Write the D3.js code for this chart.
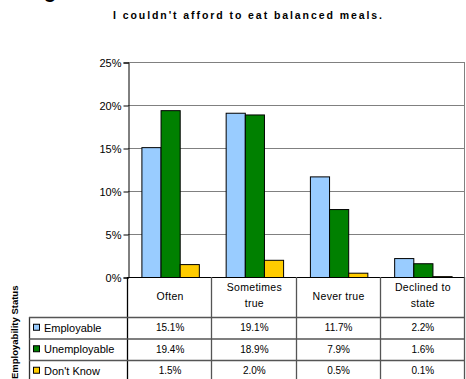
<!DOCTYPE html>
<html>
<head>
<meta charset="utf-8">
<script src="https://cdn.jsdelivr.net/npm/d3@7"></script>
<style>
  html, body { margin: 0; padding: 0; background: #fff; }
  svg { display: block; font-family: "Liberation Sans", Arial, sans-serif; }
</style>
</head>
<body>
<svg id="chart" width="466" height="379"></svg>
<script>
// Survey answers and the share of each employability group giving them
const categories = ["Often", "Sometimes true", "Never true", "Declined to state"];
const categoryLines = [["Often"], ["Sometimes", "true"], ["Never true"], ["Declined to", "state"]];
const seriesNames = ["Employable", "Unemployable", "Don't Know"];
const employable = [15.1, 19.1, 11.7, 2.2];
const unemployable = [19.4, 18.9, 7.9, 1.6];
const dontKnow = [1.5, 2.0, 0.5, 0.1];
const yTicks = [0, 5, 10, 15, 20, 25];
const colors = ["#99ccff", "#008000", "#ffcc00"];

const seriesValues = [employable, unemployable, dontKnow];

const svg = d3.select("#chart");

const plot = { left: 128, right: 465, top: 62, bottom: 277 };

const x = d3.scaleBand().domain(categories).range([plot.left, plot.right]);
const xInner = d3.scaleBand().domain(seriesNames)
  .range([0, x.bandwidth()]).paddingOuter(0.7).paddingInner(0);
const y = d3.scaleLinear().domain([0, 25]).range([plot.bottom, plot.top]);

// Fragment of the heading above, cut by the top edge
svg.append("text").attr("x", 44).attr("y", -2.5)
  .attr("font-size", 20).attr("font-weight", "bold").text("g");

// Title
svg.append("text")
  .attr("x", 113).attr("y", 19)
  .attr("font-size", 10.5).attr("font-weight", "bold")
  .attr("textLength", 269).attr("lengthAdjust", "spacing")
  .text("I couldn't afford to eat balanced meals.");

// Gridlines
svg.append("g").selectAll("line")
  .data(yTicks.filter(d => d > 0))
  .join("line")
  .attr("x1", plot.left).attr("x2", plot.right)
  .attr("y1", d => y(d) + 0.5).attr("y2", d => y(d) + 0.5)
  .attr("stroke", "#808080").attr("stroke-width", 1);

// Right edge of plot area
svg.append("line")
  .attr("x1", plot.right - 0.5).attr("x2", plot.right - 0.5)
  .attr("y1", plot.top).attr("y2", plot.bottom)
  .attr("stroke", "#808080");

// Bars
const groups = svg.append("g").selectAll("g")
  .data(seriesNames)
  .join("g")
  .attr("fill", (d, i) => colors[i]);

groups.selectAll("rect")
  .data((s, si) => categories.map((c, ci) => ({ c, s, v: seriesValues[si][ci] })))
  .join("rect")
  .attr("x", d => x(d.c) + xInner(d.s) + 0.5)
  .attr("width", xInner.bandwidth())
  .attr("y", d => y(d.v) + 0.5)
  .attr("height", d => Math.max(0, y(0) - y(d.v)))
  .attr("stroke", "#000").attr("stroke-width", 1);

// Y axis
const yAxis = d3.axisLeft(y).tickValues(yTicks)
  .tickFormat(d => d + "%").tickSize(5).tickPadding(2);
const yg = svg.append("g").attr("transform", `translate(${plot.left + 0.5},0.5)`).call(yAxis);
yg.select(".domain").attr("stroke", "#000");
yg.selectAll(".tick line").attr("stroke", "#000");
yg.selectAll(".tick text").attr("font-size", 11).attr("fill", "#000")
  .attr("font-family", "Liberation Sans, Arial, sans-serif");

// X axis baseline
svg.append("line")
  .attr("x1", plot.left).attr("x2", plot.right)
  .attr("y1", plot.bottom + 0.5).attr("y2", plot.bottom + 0.5)
  .attr("stroke", "#000");

// Data table below the chart
const table = { top: 277, header: 317, rowH: 21.5, left: 29 };
const tg = svg.append("g");

const rowY = i => table.header + i * table.rowH;
const colEdges = categories.map(c => x(c)).concat([plot.right]);

// Vertical rules between categories
tg.selectAll("line.col")
  .data(colEdges)
  .join("line").attr("class", "col")
  .attr("x1", d => Math.round(d) - 0.5).attr("x2", d => Math.round(d) - 0.5)
  .attr("y1", table.top).attr("y2", 384)
  .attr("stroke", (d, i) => i === 0 ? "#000" : "#555").attr("stroke-width", 1.3);

// Left rule of legend column
tg.append("line")
  .attr("x1", table.left + 0.5).attr("x2", table.left + 0.5)
  .attr("y1", table.header).attr("y2", 384)
  .attr("stroke", "#333").attr("stroke-width", 1.3);

// Horizontal rules
tg.selectAll("line.row")
  .data([0, 1, 2, 3])
  .join("line").attr("class", "row")
  .attr("x1", table.left).attr("x2", plot.right)
  .attr("y1", d => rowY(d) + 0.5).attr("y2", d => rowY(d) + 0.5)
  .attr("stroke", "#555").attr("stroke-width", 1.3);

// Category headers
categories.forEach((c, i) => {
  const cx = x(c) + x.bandwidth() / 2;
  const lines = categoryLines[i];
  const t = tg.append("text").attr("text-anchor", "middle")
    .attr("font-size", 10.5).attr("letter-spacing", 0.3).attr("fill", "#000");
  const start = lines.length === 1 ? 300 : 291;
  lines.forEach((ln, li) => {
    t.append("tspan").attr("x", cx).attr("y", start + li * 16).text(ln);
  });
});

// Legend entries and values
seriesNames.forEach((s, si) => {
  const cy = rowY(si) + table.rowH / 2;
  tg.append("rect")
    .attr("x", 33.5).attr("y", cy - 3.5)
    .attr("width", 6).attr("height", 6)
    .attr("fill", colors[si]).attr("stroke", "#000");
  tg.append("text").attr("x", 44).attr("y", cy + 4)
    .attr("font-size", 11).attr("fill", "#000").text(s);
  categories.forEach((c, ci) => {
    tg.append("text")
      .attr("x", x(c) + x.bandwidth() / 2).attr("y", cy + 3.5)
      .attr("text-anchor", "middle").attr("font-size", 10).attr("fill", "#000")
      .text(seriesValues[si][ci].toFixed(1) + "%");
  });
});

// Rotated legend title
svg.append("text")
  .attr("transform", "translate(18,379) rotate(-90)")
  .attr("font-size", 9.5).attr("font-weight", "bold")
  .text("Employability Status");
</script>
</body>
</html>
